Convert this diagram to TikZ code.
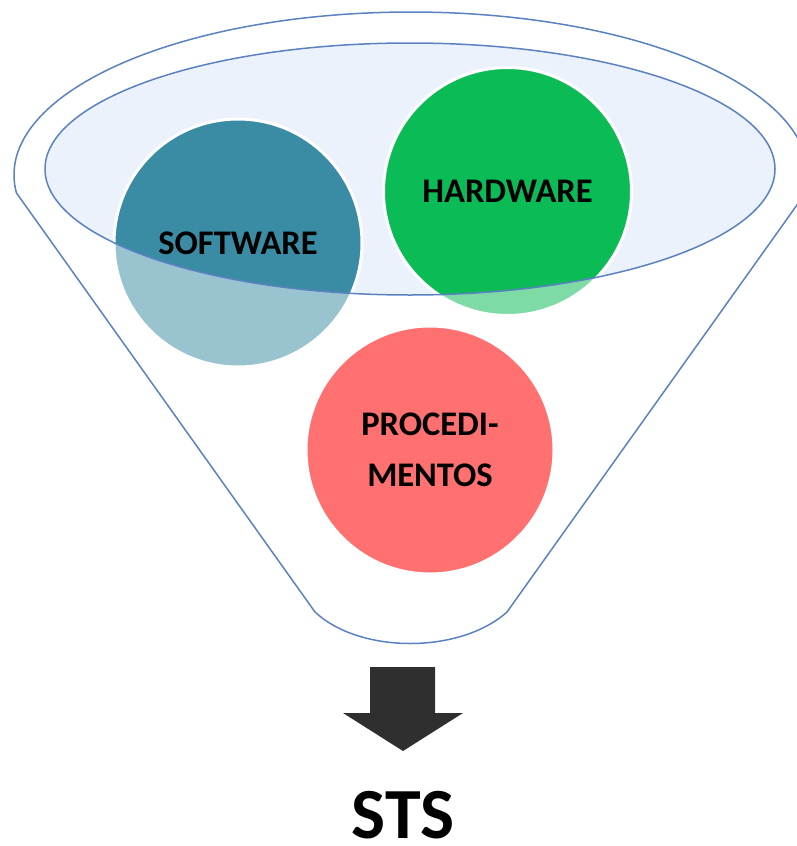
\documentclass[tikz,border=0pt]{standalone}
\usepackage{fontspec}
\setmainfont{Carlito}
\definecolor{rimblue}{HTML}{5A82C2}
\definecolor{mouthfill}{HTML}{EBF2FB}
\definecolor{swteal}{HTML}{3A8CA4}
\definecolor{hwgreen}{HTML}{0BBB55}
\definecolor{prsalmon}{HTML}{FF7171}
\definecolor{arrowgrey}{HTML}{2F2F2F}
\tikzset{
  rim/.style={draw=rimblue, line width=1.5pt},
  ball/.style={circle, minimum size=248pt, inner sep=0pt, draw=white,
    line width=3pt, text=black, align=center,
    font=\bfseries\fontsize{34.5}{51}\selectfont},
  bigword/.style={text=black, font=\bfseries\fontsize{72}{80}\selectfont, inner sep=0pt}
}
\begin{document}
\begin{tikzpicture}[x=1pt, y=-1pt]
  \useasboundingbox (0,0) rectangle (797,846);
  \begin{scope}
    \clip (0,0) rectangle (797,846);
    % mouth of the funnel
    \fill[mouthfill] (410,169) ellipse [x radius=365, y radius=126];
    % the two upper balls
    \node[ball, fill=swteal] (sw) at (238,243) {SOFTWARE};
    \node[ball, fill=hwgreen] (hw) at (507.5,191.5) {HARDWARE};
    % funnel wall seen through: lightens what lies below the mouth
    \fill[white, opacity=0.48, even odd rule]
      (411,175) ++(173.7:397 and 163) arc [start angle=173.7, end angle=366.3, x radius=397, y radius=163]
      -- (507,612) .. controls (460,654) and (360,654) .. (315,612) -- cycle
      (410,169) ellipse [x radius=365, y radius=126];
    % outlines
    \draw[rim] (410,169) ellipse [x radius=365, y radius=126];
    \draw[rim, line join=round]
      (411,175) ++(173.7:397 and 163) arc [start angle=173.7, end angle=366.3, x radius=397, y radius=163]
      -- (507,612) .. controls (460,654) and (360,654) .. (315,612) -- cycle;
    % lower ball
    \node[ball, fill=prsalmon] (pr) at (430,450) {PROCEDI-\\MENTOS};
  \end{scope}
  % output arrow and result
  \fill[arrowgrey] (370,667) -- (435,667) -- (435,713) -- (463,713) -- (403,751)
    -- (343,713) -- (370,713) -- cycle;
  \node[bigword, anchor=base] (sts) at (403,838) {STS};
\end{tikzpicture}
\end{document}
